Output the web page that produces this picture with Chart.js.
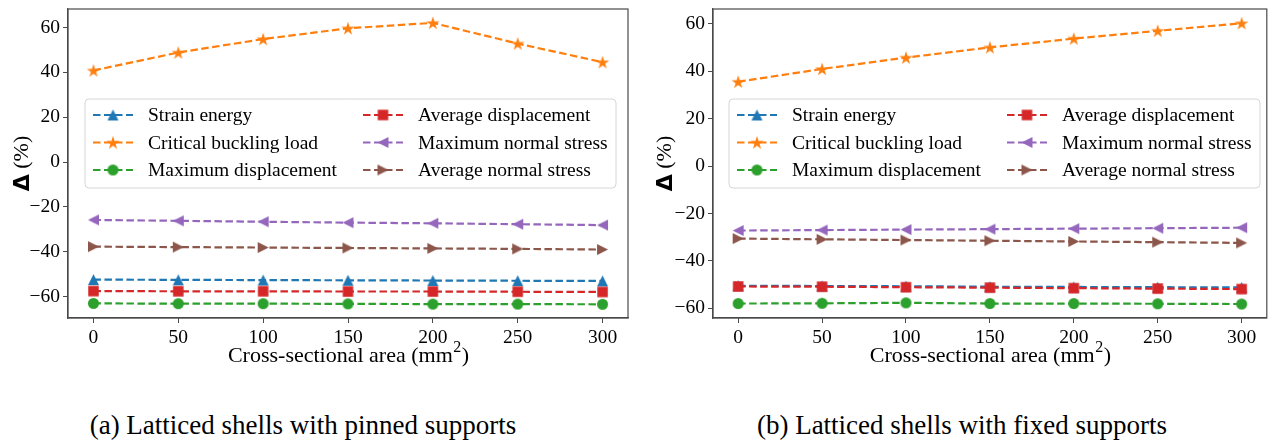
<!DOCTYPE html>
<html>
<head>
<meta charset="utf-8">
<script src="https://cdn.jsdelivr.net/npm/chart.js@4.4.1/dist/chart.umd.min.js"></script>
<style>
  body { margin: 0; background: #fff; width: 1274px; height: 443px; position: relative; overflow: hidden; }
  canvas { position: absolute; top: 0; }
  #pinnedChart { left: 0; }
  #fixedChart { left: 640px; }
  .caption { position: absolute; top: 408px; line-height: 34px; text-align: center;
             font-family: 'Liberation Serif', 'Times New Roman', serif; font-size: 27px; color: #000; }
</style>
</head>
<body>
<canvas id="pinnedChart" width="640" height="400"></canvas>
<canvas id="fixedChart" width="634" height="400"></canvas>
<div class="caption" style="left:0;width:606px">(a) Latticed shells with pinned supports</div>
<div class="caption" style="left:662px;width:600px">(b) Latticed shells with fixed supports</div>
<script>
const areas = [0, 50, 100, 150, 200, 250, 300];
const yTicks = [-60, -40, -20, 0, 20, 40, 60];
const seriesNames = ['Strain energy', 'Critical buckling load', 'Maximum displacement',
                     'Average displacement', 'Maximum normal stress', 'Average normal stress'];

// (a) pinned supports, change in %
const pinnedStrain    = [-52.4, -52.5, -52.6, -52.7, -52.8, -52.9, -53.0];
const pinnedBuckling  = [40.8, 48.8, 54.8, 59.6, 62.0, 52.8, 44.5];
const pinnedMaxDisp   = [-63.0, -63.1, -63.1, -63.2, -63.3, -63.3, -63.4];
const pinnedAvgDisp   = [-57.5, -57.6, -57.6, -57.7, -57.7, -57.8, -57.9];
const pinnedMaxStress = [-25.8, -26.2, -26.6, -27.0, -27.3, -27.7, -28.1];
const pinnedAvgStress = [-37.7, -37.9, -38.1, -38.3, -38.5, -38.7, -39.0];

// (b) fixed supports, change in %
const fixedStrain    = [-50.5, -50.6, -50.7, -50.9, -51.0, -51.1, -51.2];
const fixedBuckling  = [35.6, 41.0, 45.8, 50.1, 53.8, 57.1, 60.3];
const fixedMaxDisp   = [-58.0, -57.9, -57.7, -58.0, -58.0, -58.1, -58.2];
const fixedAvgDisp   = [-50.8, -50.9, -51.1, -51.3, -51.5, -51.7, -51.9];
const fixedMaxStress = [-27.2, -27.0, -26.8, -26.6, -26.4, -26.2, -26.0];
const fixedAvgStress = [-30.6, -30.9, -31.2, -31.5, -31.8, -32.1, -32.4];

const colors = ['#1f77b4', '#ff7f0e', '#2ca02c', '#d62728', '#9467bd', '#8c564b'];
const shapes = ['up', 'star', 'circle', 'square', 'left', 'right'];
const shapeSize = { up: 11, star: 14, circle: 11, square: 10.5, left: 11, right: 11 };

const serif = "'Liberation Serif', 'Times New Roman', serif";
const frameColor = '#4a4a4a';

// filled matplotlib-like markers as small canvases
function makeMarker(shape, color, size) {
  const c = document.createElement('canvas');
  c.width = c.height = Math.ceil(size + 4);
  const g = c.getContext('2d');
  const h = size / 2;
  g.translate(c.width / 2, c.height / 2);
  g.fillStyle = color;
  g.beginPath();
  if (shape === 'circle') {
    g.arc(0, 0, h, 0, Math.PI * 2);
  } else if (shape === 'square') {
    g.rect(-h, -h, size, size);
  } else if (shape === 'star') {
    for (let k = 0; k < 10; k++) {
      const rad = k % 2 ? h * 0.382 : h;
      const ang = -Math.PI / 2 + k * Math.PI / 5;
      g.lineTo(rad * Math.cos(ang), rad * Math.sin(ang) + h * 0.08);
    }
  } else if (shape === 'up') {
    g.moveTo(0, -h); g.lineTo(h, h); g.lineTo(-h, h);
  } else if (shape === 'left') {
    g.moveTo(-h, 0); g.lineTo(h, -h); g.lineTo(h, h);
  } else {
    g.moveTo(h, 0); g.lineTo(-h, -h); g.lineTo(-h, h);
  }
  g.closePath();
  g.fill();
  return c;
}

const markers = shapes.map((s, i) => makeMarker(s, colors[i], shapeSize[s]));

function buildDatasets(seriesList) {
  return seriesList.map((vals, i) => ({
    label: seriesNames[i],
    data: areas.map((a, k) => ({ x: a, y: vals[k] })),
    borderColor: colors[i],
    backgroundColor: colors[i],
    borderWidth: 2.2,
    borderDash: [7.5, 3.5],
    pointStyle: markers[i],
    pointRadius: 5,
    tension: 0,
    fill: false,
    order: seriesList.length - i
  }));
}

// frame, two-column legend and axis titles
const decorations = {
  id: 'decorations',
  afterDraw(chart, args, opts) {
    const ctx = chart.ctx;
    const area = chart.chartArea;
    ctx.save();

    ctx.strokeStyle = frameColor;
    ctx.lineWidth = 1.2;
    ctx.strokeRect(area.left, area.top, area.right - area.left, area.bottom - area.top);

    // legend box
    const lx = area.left + opts.legendX, ly = area.top + 90, lw = 531, lh = 89;
    ctx.beginPath();
    ctx.roundRect(lx, ly, lw, lh, 4);
    ctx.fillStyle = 'rgba(255,255,255,0.8)';
    ctx.fill();
    ctx.strokeStyle = '#d6d6d6';
    ctx.lineWidth = 1;
    ctx.stroke();

    ctx.font = '19.5px ' + serif;
    ctx.textBaseline = 'middle';
    ctx.textAlign = 'left';
    chart.data.datasets.forEach((ds, i) => {
      const col = Math.floor(i / 3), row = i % 3;
      const hx = lx + 8 + col * 270, hy = ly + 16 + row * 27.5;
      ctx.strokeStyle = ds.borderColor;
      ctx.lineWidth = ds.borderWidth;
      ctx.setLineDash(ds.borderDash);
      ctx.beginPath();
      ctx.moveTo(hx, hy);
      ctx.lineTo(hx + 40, hy);
      ctx.stroke();
      ctx.setLineDash([]);
      const m = ds.pointStyle;
      ctx.drawImage(m, hx + 20 - m.width / 2, hy - m.height / 2);
      ctx.fillStyle = '#000';
      ctx.fillText(ds.label, hx + 55, hy + 1);
    });

    // x title with superscript
    const cx = (area.left + area.right) / 2, ty = 356;
    const main = 'Cross-sectional area (mm';
    ctx.font = '22px ' + serif;
    const w1 = ctx.measureText(main).width;
    ctx.font = '16px ' + serif;
    const w2 = ctx.measureText('2').width;
    ctx.font = '22px ' + serif;
    const w3 = ctx.measureText(')').width;
    let x0 = cx - (w1 + w2 + w3) / 2;
    ctx.fillStyle = '#000';
    ctx.fillText(main, x0, ty);
    ctx.font = '16px ' + serif;
    ctx.fillText('2', x0 + w1 + 0.5, ty - 8);
    ctx.font = '22px ' + serif;
    ctx.fillText(')', x0 + w1 + w2 + 1, ty);

    // y title
    ctx.translate(opts.yTitleX, (area.top + area.bottom) / 2);
    ctx.rotate(-Math.PI / 2);
    ctx.font = 'bold 22px "DejaVu Sans", sans-serif';
    const wd = ctx.measureText('\u0394').width;
    ctx.font = '22px ' + serif;
    const wp = ctx.measureText(' (%)').width;
    const sx = -(wd + wp) / 2;
    ctx.font = 'bold 22px "DejaVu Sans", sans-serif';
    ctx.fillText('\u0394', sx, 1);
    ctx.font = '22px ' + serif;
    ctx.fillText(' (%)', sx + wd, 0);
    ctx.restore();
  }
};

function buildChart(id, seriesList, yMin, yMax, yWidth, padRight, legendX, yTitleX) {
  return new Chart(document.getElementById(id), {
    type: 'line',
    data: { datasets: buildDatasets(seriesList) },
    plugins: [decorations],
    options: {
      responsive: false,
      animation: false,
      devicePixelRatio: 1,
      layout: { padding: { left: 0, right: padRight, top: 9, bottom: 0 } },
      plugins: {
        legend: { display: false },
        tooltip: { enabled: false },
        decorations: { legendX: legendX, yTitleX: yTitleX }
      },
      scales: {
        x: {
          type: 'linear',
          min: -15,
          max: 315,
          afterBuildTicks: s => { s.ticks = areas.map(v => ({ value: v })); },
          afterFit: s => { s.height = 82; s.paddingLeft = 0; s.paddingRight = 0; },
          grid: { drawOnChartArea: false, tickLength: 5, color: frameColor, lineWidth: 1 },
          border: { color: frameColor, width: 1.2 },
          ticks: { color: '#000', font: { family: serif, size: 19.5 }, padding: 3, maxRotation: 0 }
        },
        y: {
          min: yMin,
          max: yMax,
          afterBuildTicks: s => { s.ticks = yTicks.map(v => ({ value: v })); },
          afterFit: s => { s.width = yWidth; s.paddingTop = 0; s.paddingBottom = 0; },
          grid: { drawOnChartArea: false, tickLength: 5, color: frameColor, lineWidth: 1 },
          border: { color: frameColor, width: 1.2 },
          ticks: {
            color: '#000',
            font: { family: serif, size: 19.5 },
            padding: 3,
            callback: v => v < 0 ? '\u2212' + Math.abs(v) : String(v)
          }
        }
      }
    }
  });
}

buildChart('pinnedChart',
  [pinnedStrain, pinnedBuckling, pinnedMaxDisp, pinnedAvgDisp, pinnedMaxStress, pinnedAvgStress],
  -69.5, 68.2, 68, 12, 17, 22);

buildChart('fixedChart',
  [fixedStrain, fixedBuckling, fixedMaxDisp, fixedAvgDisp, fixedMaxStress, fixedAvgStress],
  -64.1, 66.3, 73, 2, 16, 25);
</script>
</body>
</html>
